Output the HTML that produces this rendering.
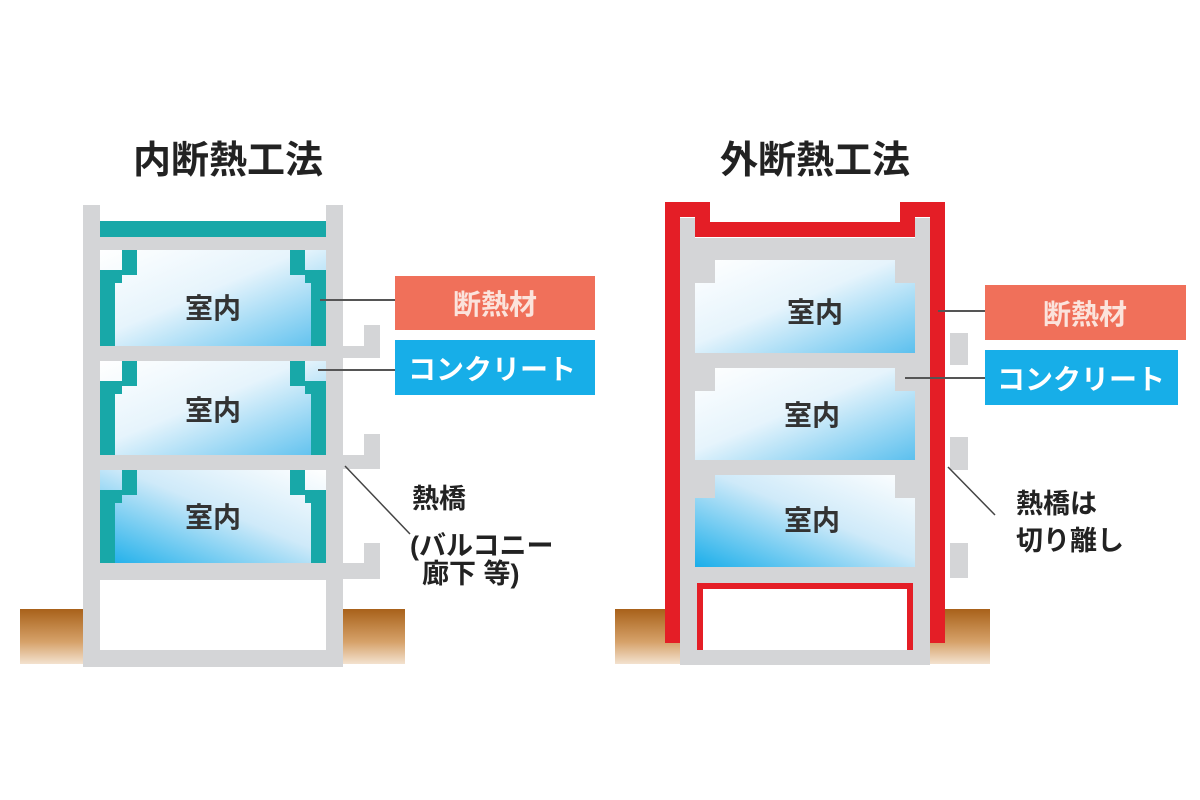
<!DOCTYPE html>
<html><head><meta charset="utf-8"><style>
body{margin:0;background:#fff;}
svg{display:block;font-family:"Liberation Sans","Noto Sans CJK JP",sans-serif;font-weight:700;}
</style></head><body>
<svg width="1200" height="800" viewBox="0 0 1200 800">
<defs>
<linearGradient id="g1" x1="0" y1="0" x2="1" y2="1"><stop offset="0" stop-color="#fff"/><stop offset="0.45" stop-color="#e6f4fc"/><stop offset="1" stop-color="#5cc0ee"/></linearGradient>
<linearGradient id="g2" x1="0" y1="1" x2="1" y2="0"><stop offset="0" stop-color="#1aaeea"/><stop offset="0.55" stop-color="#cfeaf9"/><stop offset="1" stop-color="#fff"/></linearGradient>
<linearGradient id="gb" x1="0" y1="0" x2="0" y2="1"><stop offset="0" stop-color="#a8611a"/><stop offset="0.6" stop-color="#d6a26a"/><stop offset="1" stop-color="#f3e2cf"/></linearGradient>
</defs>
<text x="228" y="173" font-size="38" text-anchor="middle" fill="#222">内断熱工法</text>
<text x="815" y="173" font-size="38" text-anchor="middle" fill="#222">外断熱工法</text>

<rect x="20" y="609" width="385" height="55" fill="url(#gb)"/>
<rect x="615" y="609" width="375" height="55" fill="url(#gb)"/>

<g fill="#d4d5d7">
<rect x="83" y="205" width="260" height="462"/>
<rect x="343" y="346" width="37" height="12"/><rect x="364" y="325" width="16" height="33"/>
<rect x="343" y="455" width="37" height="14"/><rect x="364" y="434" width="16" height="35"/>
<rect x="343" y="563" width="37" height="16"/><rect x="364" y="543" width="16" height="36"/>
</g>
<rect x="100" y="205" width="226" height="16" fill="#fff"/>
<rect x="100" y="221" width="226" height="16" fill="#18a8a8"/>
<rect x="100" y="580" width="226" height="70" fill="#fff"/>
<rect x="100" y="250" width="226" height="96" fill="url(#g1)"/>
<rect x="100" y="361" width="226" height="94" fill="url(#g1)"/>
<rect x="100" y="470" width="226" height="93" fill="url(#g2)"/>
<g fill="#18a8a8">
<path d="M122 250h15v25h-15v8h-7v63h-15v-76h22z"/>
<path d="M122 361h15v25h-15v8h-7v61h-15v-74h22z"/>
<path d="M122 470h15v25h-15v8h-7v60h-15v-73h22z"/>
<path d="M305 250h-15v25h15v8h6v63h15v-76h-21z"/>
<path d="M305 361h-15v25h15v8h6v61h15v-74h-21z"/>
<path d="M305 470h-15v25h15v8h6v60h15v-73h-21z"/>
</g>
<text x="213" y="318" font-size="28" text-anchor="middle" fill="#333">室内</text>
<text x="213" y="420" font-size="28" text-anchor="middle" fill="#333">室内</text>
<text x="213" y="527" font-size="28" text-anchor="middle" fill="#333">室内</text>

<line x1="320" y1="300" x2="395" y2="300" stroke="#555" stroke-width="2"/>
<line x1="318" y1="370" x2="395" y2="370" stroke="#555" stroke-width="2"/>
<line x1="345" y1="466" x2="410" y2="534" stroke="#444" stroke-width="1.5"/>
<rect x="395" y="276" width="200" height="54" fill="#f0705a"/>
<text x="495" y="314" font-size="28" text-anchor="middle" fill="#fbe3dc">断熱材</text>
<rect x="395" y="340" width="200" height="55" fill="#17aee8"/>
<text x="492" y="379" font-size="28" text-anchor="middle" fill="#fff">コンクリート</text>
<g font-size="27" fill="#222">
<text x="412" y="508">熱橋</text>
<text x="410" y="555">(バルコニー</text>
<text x="422" y="583">廊下 等)</text>
</g>

<g fill="#d4d5d7">
<rect x="680" y="218" width="250" height="447"/>
<rect x="950" y="333" width="18" height="32"/>
<rect x="950" y="437" width="18" height="33"/>
<rect x="950" y="543" width="18" height="35"/>
</g>
<rect x="695" y="202" width="220" height="36" fill="#fff"/>
<path d="M665 202h45v20h190v-20h45v441h-15v-426h-15v20h-220v-20h-15v426h-15z" fill="#e41e26"/>
<rect x="697" y="583" width="216" height="67" fill="#e41e26"/>
<rect x="703" y="589" width="204" height="61" fill="#fff"/>
<path d="M715 260h180v23h20v70h-220v-70h20z" fill="url(#g1)"/>
<path d="M715 368h180v23h20v69h-220v-69h20z" fill="url(#g1)"/>
<path d="M715 475h180v23h20v69h-220v-69h20z" fill="url(#g2)"/>
<text x="815" y="322" font-size="28" text-anchor="middle" fill="#333">室内</text>
<text x="812" y="425" font-size="28" text-anchor="middle" fill="#333">室内</text>
<text x="812" y="530" font-size="28" text-anchor="middle" fill="#333">室内</text>

<line x1="938" y1="311" x2="985" y2="311" stroke="#555" stroke-width="2"/>
<line x1="905" y1="378" x2="985" y2="378" stroke="#555" stroke-width="2"/>
<line x1="948" y1="467" x2="995" y2="515" stroke="#444" stroke-width="1.5"/>
<rect x="985" y="285" width="201" height="55" fill="#f0705a"/>
<text x="1085" y="324" font-size="28" text-anchor="middle" fill="#fbe3dc">断熱材</text>
<rect x="985" y="350" width="193" height="55" fill="#17aee8"/>
<text x="1081" y="389" font-size="28" text-anchor="middle" fill="#fff">コンクリート</text>
<g font-size="27" fill="#222">
<text x="1016" y="513">熱橋は</text>
<text x="1016" y="550">切り離し</text>
</g>
</svg>
</body></html>
